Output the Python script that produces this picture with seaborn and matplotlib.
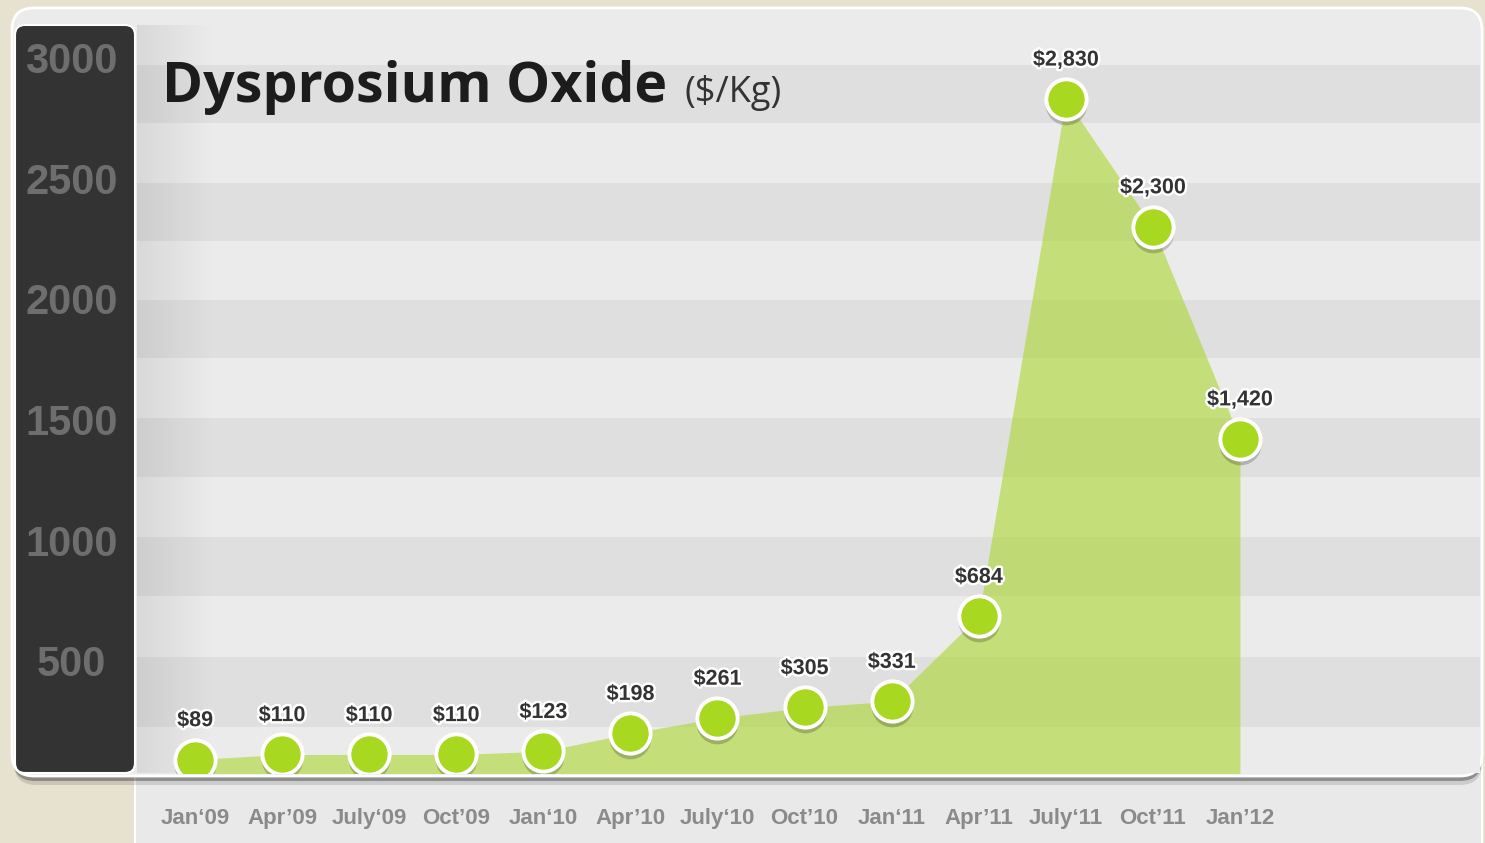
import numpy as np
import pandas as pd
import seaborn as sns
import matplotlib.pyplot as plt
import matplotlib.patheffects as pe
from matplotlib.patches import FancyBboxPatch, Rectangle
from matplotlib.transforms import offset_copy

# data
quarters = ["Jan‘09", "Apr’09", "July‘09", "Oct’09", "Jan‘10", "Apr’10", "July‘10",
            "Oct’10", "Jan‘11", "Apr’11", "July‘11", "Oct’11", "Jan’12"]
prices = [89, 110, 110, 110, 123, 198, 261, 305, 331, 684, 2830, 2300, 1420]
y_ticks = [500, 1000, 1500, 2000, 2500, 3000]

df = pd.DataFrame({'quarter': quarters, 'price': prices})
df['pos'] = np.arange(len(df))

sns.set_style('white')
plt.rcParams['font.family'] = ['Liberation Sans', 'DejaVu Sans']

W, H = 1485, 843
fig = plt.figure(figsize=(W / 100, H / 100), dpi=100)
fig.patch.set_facecolor('#e7e1d0')


def fx(x):
    return x / W


def fy(y):
    return 1 - y / H


def panel(x0, y0, x1, y1, r, **kw):
    p = FancyBboxPatch((fx(x0), fy(y1)), fx(x1) - fx(x0), fy(y0) - fy(y1),
                       boxstyle='round,pad=0,rounding_size=%f' % (r / W),
                       mutation_aspect=W / H, transform=fig.transFigure, **kw)
    fig.patches.append(p)
    return p


# background panels
panel(135, 735, 1482, 870, 14, facecolor='#e9e9e9', edgecolor='white', lw=1.5, zorder=-6)
panel(14, 16, 1482, 785, 22, facecolor='black', edgecolor='none', alpha=0.12, zorder=-5)
panel(13, 12, 1482, 781, 22, facecolor='black', edgecolor='none', alpha=0.3, zorder=-5)
panel(12, 8, 1482, 776, 22, facecolor='#ebebeb', edgecolor='white', lw=2, zorder=-4)
panel(15, 25, 135, 773, 10, facecolor='#333333', edgecolor='white', lw=1.5, zorder=-3)

ax_left, ax_right, ax_top, ax_bottom = 137, 1480, 25, 773
ax = fig.add_axes([fx(ax_left), fy(ax_bottom), fx(ax_right) - fx(ax_left), fy(ax_top) - fy(ax_bottom)])
ax.set_zorder(1)
ax.set_facecolor('#ebebeb')

# horizontal bands
for y0, y1 in [(65, 123), (183, 241), (300, 358), (418, 477), (537, 596), (657, 727)]:
    f0 = (ax_bottom - y1) / (ax_bottom - ax_top)
    f1 = (ax_bottom - y0) / (ax_bottom - ax_top)
    ax.add_patch(Rectangle((0, f0), 1, f1 - f0, transform=ax.transAxes,
                           facecolor='#dfdfdf', edgecolor='none', zorder=0))

# soft shading on the left of the plot area
grad = np.zeros((1, 80, 4))
grad[..., 3] = np.linspace(0.08, 0, 80)
ax.imshow(grad, extent=[0, 78 / (ax_right - ax_left), 0, 1], transform=ax.transAxes,
          aspect='auto', zorder=0.5)

green = '#a8d81f'
ax.fill_between(df['pos'], df['price'], 0, color='#aad62d', alpha=0.6, lw=0, zorder=2)

# marker shadows
shadow = offset_copy(ax.transData, fig=fig, x=0, y=-5, units='dots')
ax.scatter(df['pos'], df['price'], s=900, color='black', alpha=0.2, lw=0,
           transform=shadow, zorder=3)
sns.scatterplot(data=df, x='pos', y='price', s=840, color=green, edgecolor='white',
                linewidth=2.8, zorder=4, legend=False, ax=ax)

for _, row in df.iterrows():
    ax.annotate('${:,}'.format(row['price']), (row['pos'], row['price']),
                xytext=(0, 28), textcoords='offset points', ha='center', va='center',
                fontsize=15.5, fontweight='bold', color='#333333', zorder=5,
                path_effects=[pe.withStroke(linewidth=3.5, foreground='white')])

# scale: px per unit chosen so points and ticks sit close to the original
s, z = 0.241, 781
ax.set_xlim((ax_left - 195) / 87.08, (ax_right - 195) / 87.08)
ax.set_ylim((z - ax_bottom) / s, (z - ax_top) / s)

ax.set_yticks(y_ticks)
ax.set_yticklabels([str(t) for t in y_ticks])
ax.tick_params(axis='y', length=0, pad=47, labelsize=30, labelcolor='#6e6e6e')
for lab in ax.get_yticklabels():
    lab.set_ha('center')
    lab.set_fontweight('bold')

ax.set_xticks(df['pos'])
ax.set_xticklabels(df['quarter'])
ax.tick_params(axis='x', length=0, pad=25, labelsize=16, labelcolor='#8a8a8a')
for lab in ax.get_xticklabels():
    lab.set_fontweight('bold')

ax.set_xlabel('')
ax.set_ylabel('')
for sp in ax.spines.values():
    sp.set_visible(False)
ax.grid(False)

fig.text(fx(162), fy(102), 'Dysprosium Oxide', fontsize=40, family='Open Sans',
         fontweight='bold', color='#1c1c1c', va='baseline', zorder=10)
fig.text(fx(685), fy(102), '($/Kg)', fontsize=26, family='Open Sans',
         color='#333333', va='baseline', zorder=10)

fig.savefig('out.png', dpi=100, facecolor=fig.get_facecolor())
